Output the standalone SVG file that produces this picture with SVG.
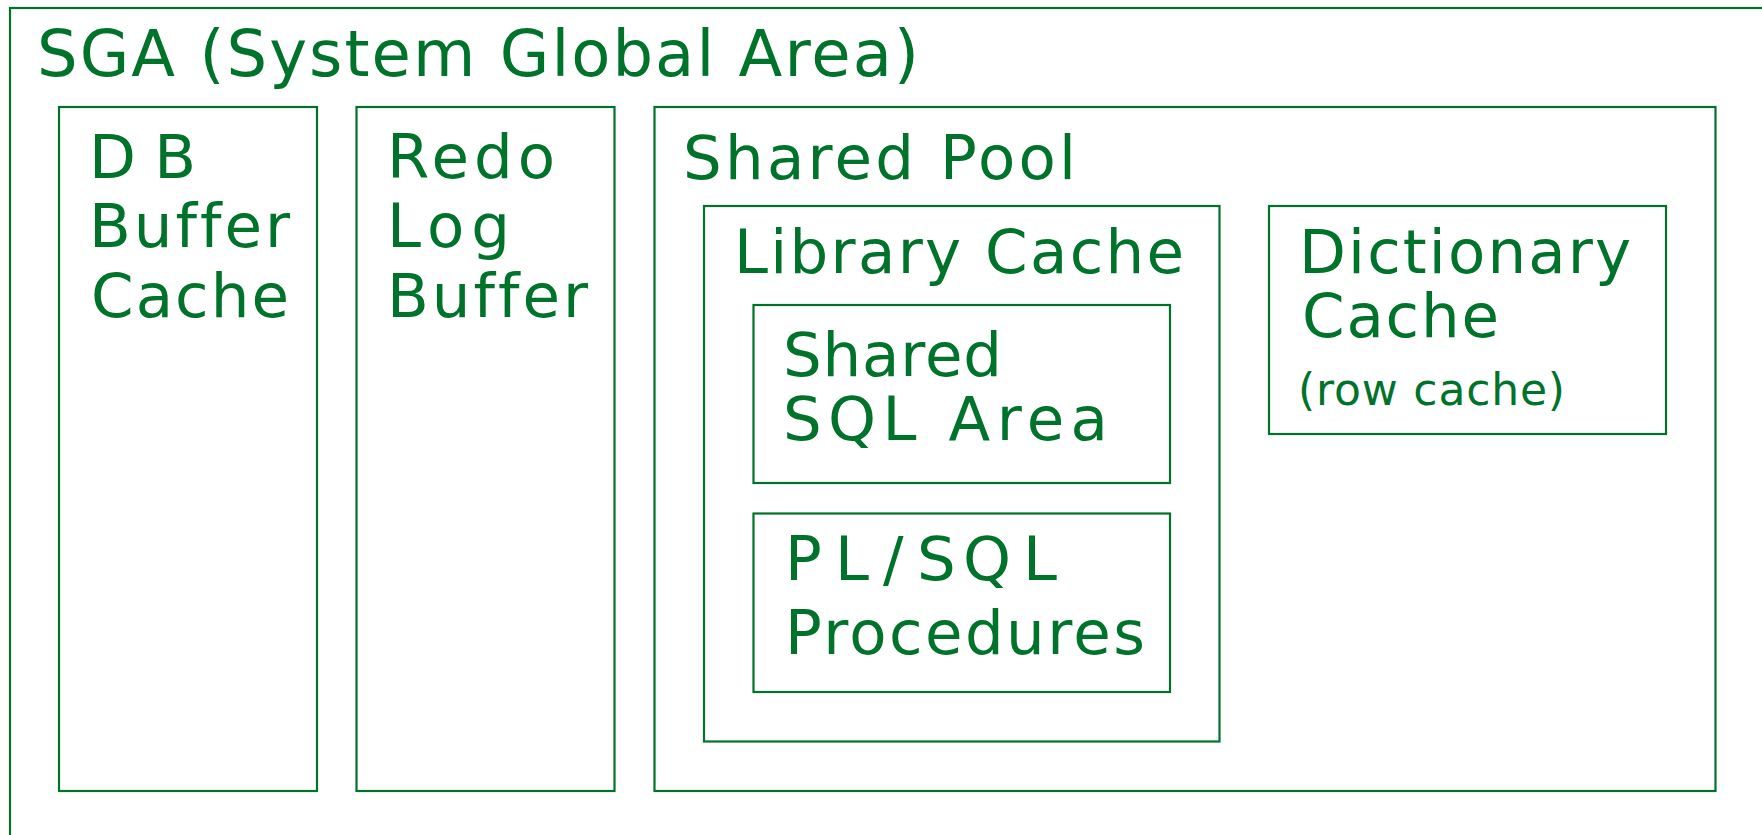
<svg xmlns="http://www.w3.org/2000/svg" width="1762" height="835" viewBox="0 0 1762 835">
<style>
rect{fill:none;stroke:#00732b;stroke-width:2.2}
text{font-family:"DejaVu Sans",sans-serif;fill:#00732b;font-size:61px;font-variant-ligatures:none}
.t{font-size:64px}
.s{font-size:44px}
</style>
<rect width="1762" height="835" style="fill:#fff;stroke:none"/>
<g id="sga">
<rect x="10" y="8" width="1800" height="900"/>
<text class="t" x="37" y="76" textLength="882" lengthAdjust="spacing">SGA (System Global Area)</text>
</g>
<g id="db-buffer-cache">
<rect x="59" y="107" width="258" height="684"/>
<text x="89" y="178" textLength="107" lengthAdjust="spacing">DB</text>
<text x="89" y="247" textLength="201" lengthAdjust="spacing">Buffer</text>
<text x="91" y="317" textLength="198" lengthAdjust="spacing">Cache</text>
</g>
<g id="redo-log-buffer">
<rect x="356.5" y="107" width="258" height="684"/>
<text x="387" y="178" textLength="168" lengthAdjust="spacing">Redo</text>
<text x="387" y="247" textLength="123" lengthAdjust="spacing">Log</text>
<text x="387" y="317" textLength="201" lengthAdjust="spacing">Buffer</text>
</g>
<g id="shared-pool">
<rect x="654.5" y="107" width="1061" height="684"/>
<text x="683" y="179" textLength="393" lengthAdjust="spacing">Shared Pool</text>
</g>
<g id="library-cache">
<rect x="704" y="206" width="515.5" height="535.5"/>
<text x="734" y="273" textLength="450" lengthAdjust="spacing">Library Cache</text>
</g>
<g id="shared-sql-area">
<rect x="753.5" y="305" width="416.5" height="178"/>
<text x="783" y="376" textLength="219" lengthAdjust="spacing">Shared</text>
<text x="783" y="440" textLength="325" lengthAdjust="spacing">SQL Area</text>
</g>
<g id="plsql-procedures">
<rect x="753.5" y="513.5" width="416.5" height="178.5"/>
<text x="785 835 883 917 963 1023" y="580">PL/SQL</text>
<text x="785" y="654" textLength="360" lengthAdjust="spacing">Procedures</text>
</g>
<g id="dictionary-cache">
<rect x="1269" y="206" width="397" height="228"/>
<text x="1299" y="273" textLength="332" lengthAdjust="spacing">Dictionary</text>
<text x="1302" y="337" textLength="197" lengthAdjust="spacing">Cache</text>
<text class="s" x="1298" y="405" textLength="267" lengthAdjust="spacing">(row cache)</text>
</g>
<g id="connectors"/>
</svg>
